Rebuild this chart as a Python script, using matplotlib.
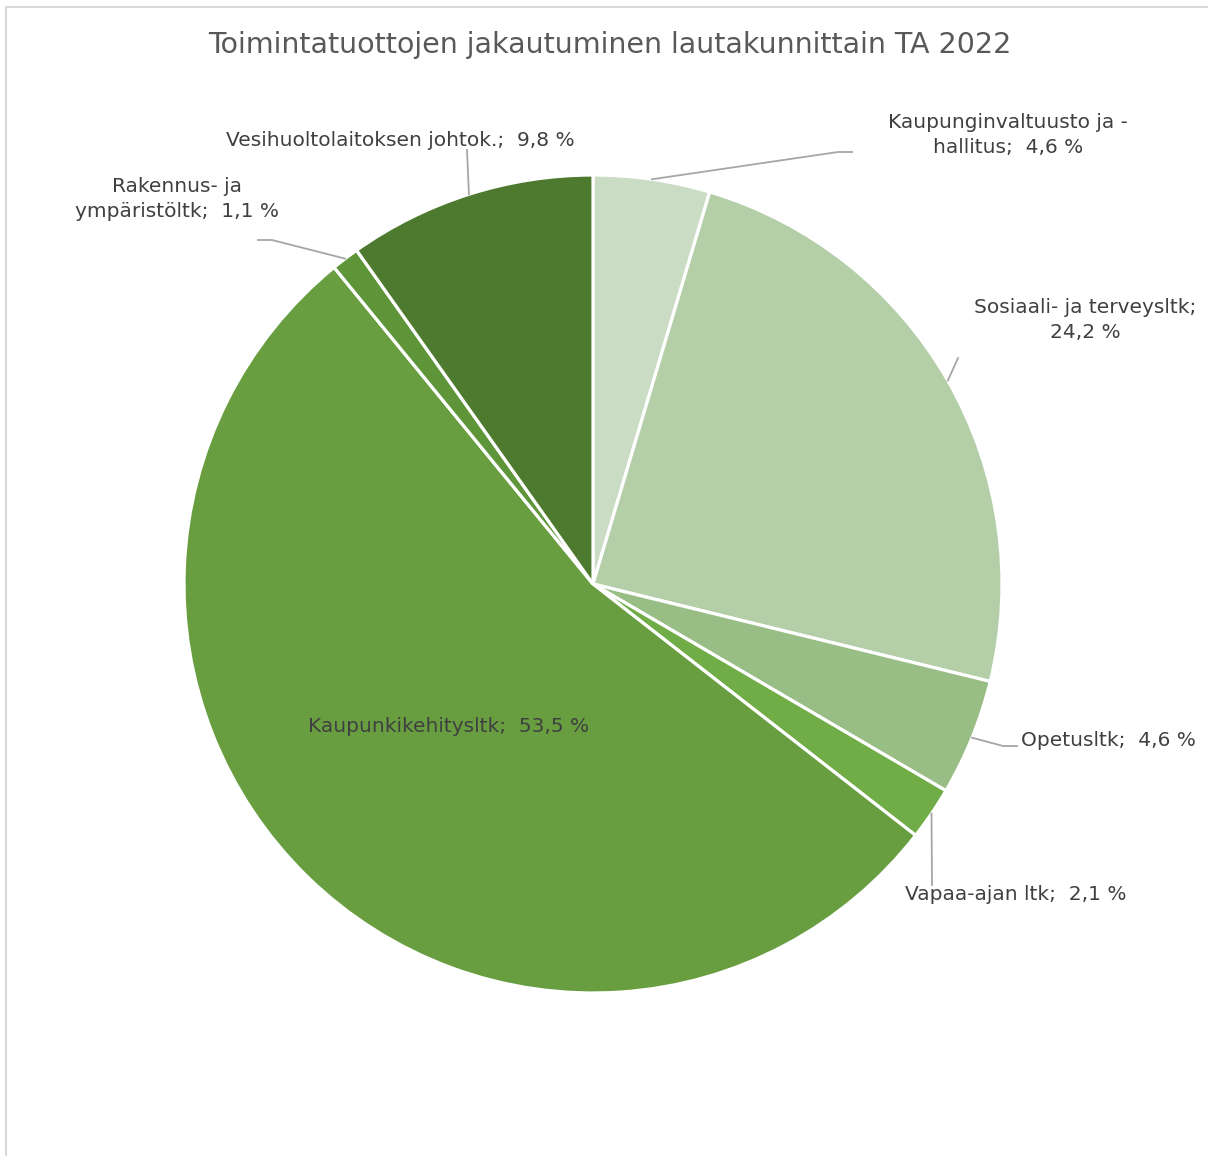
import numpy as np
import matplotlib.pyplot as plt
from matplotlib.patches import Rectangle

plt.rcParams["font.family"] = ["DejaVu Sans"]

names = ["Kaupunginvaltuusto ja -\nhallitus", "Sosiaali- ja terveysltk", "Opetusltk",
         "Vapaa-ajan ltk", "Kaupunkikehitysltk", "Rakennus- ja\nympäristöltk",
         "Vesihuoltolaitoksen johtok."]
shares = [4.6, 24.2, 4.6, 2.1, 53.5, 1.1, 9.8]
colors = ["#CADCC4", "#B4CEA8", "#98BD85", "#70AD47", "#689E40", "#5E9539", "#4E7A30"]

W, H = 1208, 1156
cx, cy, R = 593, H - 584, 409

fig = plt.figure(figsize=(W / 100, H / 100), dpi=100)
ax = fig.add_axes([0, 0, 1, 1])
ax.pie(shares, colors=colors, startangle=90, counterclock=False,
       center=(cx, cy), radius=R, frame=True,
       wedgeprops=dict(edgecolor="white", linewidth=2.3))
ax.set_xlim(0, W)
ax.set_ylim(0, H)
ax.set_aspect("equal")
ax.axis("off")

# chart border
fig.patches.append(Rectangle((6 / W, -0.1), 1.2, (H - 7) / H + 0.1, transform=fig.transFigure,
                             fill=False, edgecolor="#D9D9D9", linewidth=1.5))

ax.text(610, H - 45, "Toimintatuottojen jakautuminen lautakunnittain TA 2022",
        ha="center", va="center", fontsize=20.5, color="#595959")

# label text, alignment and leader path (pixel coords, y from top)
fmt = lambda v: f"{v:.1f}".replace(".", ",") + " %"
txt_col = "#404040"
lead_col = "#A6A6A6"
layout = [
    dict(pos=(1008, 135), ha="center", path=[(838, 152), (852, 152)]),
    dict(pos=(1085, 320), ha="center", path=[(958, 358)]),
    dict(pos=(1021, 740), ha="left", path=[(1003, 746), (1017, 746)]),
    dict(pos=(905, 895), ha="left", path=[(932, 885)]),
    dict(pos=(449, 727), ha="center", path=None),
    dict(pos=(177, 199), ha="center", path=[(272, 240), (258, 240)]),
    dict(pos=(400, 140), ha="center", path=[(467, 150)]),
]

cum = np.cumsum([0] + shares) / sum(shares) * 360
for i, (name, v) in enumerate(zip(names, shares)):
    L = layout[i]
    sep = ";\n" if i == 1 else ";  "
    ax.text(L["pos"][0], H - L["pos"][1], name + sep + fmt(v), ha=L["ha"], va="center",
            fontsize=14.5, color=txt_col, linespacing=1.4)
    if L["path"]:
        ang = np.deg2rad(90 - (cum[i] + cum[i + 1]) / 2)
        xs = [cx + R * np.cos(ang)] + [p[0] for p in L["path"]]
        ys = [cy + R * np.sin(ang)] + [H - p[1] for p in L["path"]]
        ax.plot(xs, ys, color=lead_col, lw=1.3)

fig.savefig("out.png", dpi=100)
